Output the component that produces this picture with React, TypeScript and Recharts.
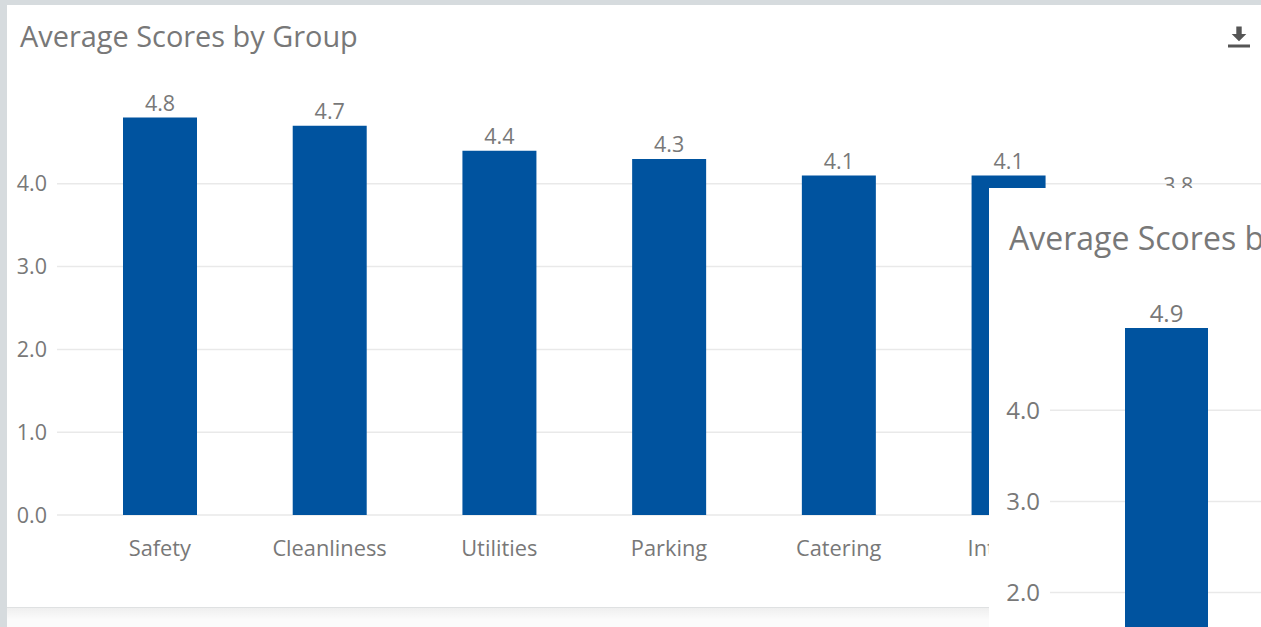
import { BarChart, Bar, XAxis, YAxis, CartesianGrid, LabelList } from "recharts";

const BAR_COLOR = "#00539f";
const TEXT_COLOR = "#787878";
const GRID_COLOR = "#e9e9e9";
const FONT = "'Open Sans', sans-serif";

// back card
const groupNames = ["Safety", "Cleanliness", "Utilities", "Parking", "Catering", "Internet", "Signage"];
const groupScores = [4.8, 4.7, 4.4, 4.3, 4.1, 4.1, 3.8];

// front card, only its first column fits on the page
const frontNames = ["Safety"];
const frontScores = [4.9];

const scoreTicks = [0, 1, 2, 3, 4];

const groupData = groupNames.map((name, i) => ({ name, score: groupScores[i] }));
const frontData = frontNames.map((name, i) => ({ name, score: frontScores[i] }));

const fmt = (v: number) => v.toFixed(1);

function DownloadIcon() {
  return (
    <svg width={24} height={24} viewBox="0 0 24 24" style={{ position: "absolute", left: 1227, top: 25 }}>
      <path d="M9.3 1.5h5.4v7.5h4.6L12 16.3 4.7 9h4.6z M1 19.6h22v2.9H1z" fill="#555" />
    </svg>
  );
}

export default function App() {
  return (
    <div style={{ position: "absolute", left: 0, top: 0, width: 1261, height: 627, overflow: "hidden", background: "#d6dbde", fontFamily: FONT }}>
      {/* strip under the back card */}
      <div style={{ position: "absolute", left: 7, top: 608, width: 1254, height: 19, background: "linear-gradient(#efefef, #fbfbfb 60%)" }} />

      <div style={{ position: "absolute", left: 7, top: 5, width: 1254, height: 603, background: "#fff", borderBottom: "1px solid #dfe1e2", boxSizing: "border-box" }} />
      <div style={{ position: "absolute", left: 20, top: 17, fontSize: 28.9, lineHeight: "38px", color: TEXT_COLOR, whiteSpace: "nowrap" }}>Average Scores by Group</div>
      <DownloadIcon />

      <div style={{ position: "absolute", left: 0, top: 0 }}>
        <BarChart width={1263} height={600} data={groupData} margin={{ top: 101, right: 0, bottom: 55, left: 0 }}>
          <CartesianGrid vertical={false} stroke={GRID_COLOR} strokeWidth={1.5} horizontalValues={scoreTicks} />
          <XAxis
            dataKey="name"
            interval={0}
            padding={{ left: 18, right: 0 }}
            axisLine={false}
            tickLine={false}
            tickMargin={20}
            tick={{ fontSize: 21.8, fill: TEXT_COLOR, fontFamily: FONT }}
          />
          <YAxis
            width={57}
            domain={[0, 5]}
            ticks={scoreTicks}
            tickFormatter={fmt}
            axisLine={false}
            tickLine={false}
            tickMargin={4}
            tick={{ fontSize: 21.5, fill: TEXT_COLOR, fontFamily: FONT }}
          />
          <Bar dataKey="score" fill={BAR_COLOR} barSize={74} isAnimationActive={false}>
            <LabelList dataKey="score" position="top" offset={7} formatter={fmt} style={{ fontSize: 21.5, fill: TEXT_COLOR, fontFamily: FONT }} />
          </Bar>
        </BarChart>
      </div>

      {/* front card */}
      <div style={{ position: "absolute", left: 989, top: 188, width: 272, height: 647, background: "#fff" }}>
        <div style={{ position: "absolute", left: 20, top: 29, fontSize: 32, lineHeight: "42px", color: TEXT_COLOR, whiteSpace: "nowrap" }}>
          Average Scores by Group
        </div>
        <BarChart width={272} height={647} data={frontData} margin={{ top: 131, right: 0, bottom: 30, left: 0 }}>
          <CartesianGrid vertical={false} stroke={GRID_COLOR} strokeWidth={1.5} horizontalValues={scoreTicks} />
          <XAxis dataKey="name" interval={0} padding={{ left: 21, right: 0 }} axisLine={false} tickLine={false} tick={{ fontSize: 24, fill: TEXT_COLOR, fontFamily: FONT }} />
          <YAxis
            width={61}
            domain={[0, 5]}
            ticks={scoreTicks}
            tickFormatter={fmt}
            axisLine={false}
            tickLine={false}
            tickMargin={4}
            tick={{ fontSize: 24, fill: TEXT_COLOR, fontFamily: FONT }}
          />
          <Bar dataKey="score" fill={BAR_COLOR} barSize={83} isAnimationActive={false}>
            <LabelList dataKey="score" position="top" offset={6} formatter={fmt} style={{ fontSize: 24, fill: TEXT_COLOR, fontFamily: FONT }} />
          </Bar>
        </BarChart>
      </div>
    </div>
  );
}
